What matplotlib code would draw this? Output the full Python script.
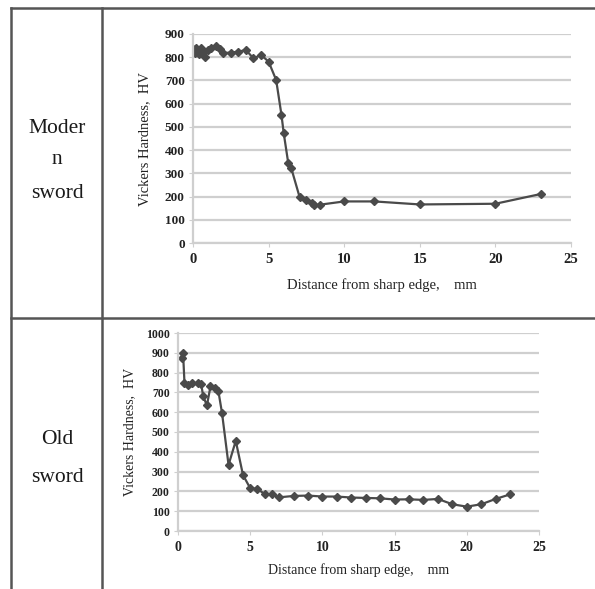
import matplotlib.pyplot as plt
from matplotlib.lines import Line2D

plt.rcParams['font.family'] = ['Liberation Serif', 'DejaVu Serif']

# modern sword: distance from edge (mm) and hardness (HV)
modern_x = [0.0, 0.1, 0.2, 0.3, 0.4, 0.5, 0.6, 0.8, 1.0, 1.2, 1.5, 1.8, 2.0, 2.5, 3.0,
            3.5, 4.0, 4.5, 5.0, 5.5, 5.85, 6.0, 6.3, 6.5, 7.05, 7.5, 7.9, 8.0, 8.4,
            10.0, 12.0, 15.0, 20.0, 23.0]
modern_hv = [835, 820, 840, 830, 815, 840, 825, 802, 830, 840, 848, 835, 818, 820, 824,
             831, 795, 810, 781, 702, 552, 473, 344, 322, 198, 186, 172, 165, 165,
             179, 179, 166, 169, 211]

# old sword
old_x = [0.25, 0.35, 0.45, 0.7, 1.0, 1.4, 1.6, 1.75, 2.0, 2.25, 2.55, 2.8, 3.05, 3.5,
         4.0, 4.5, 5.0, 5.5, 6.0, 6.5, 7.0, 8, 9, 10, 11, 12, 13, 14, 15, 16, 17,
         18, 19, 20, 21, 22, 23]
old_hv = [873, 899, 747, 739, 747, 747, 742, 680, 634, 730, 722, 705, 595, 334,
          455, 283, 216, 212, 187, 185, 170, 177, 179, 174, 174, 169, 167, 165, 159,
          160, 157, 162, 135, 123, 135, 162, 185]

xticks = [0, 5, 10, 15, 20, 25]
top_yticks = list(range(0, 1000, 100))
bot_yticks = list(range(0, 1100, 100))

fig = plt.figure(figsize=(5.95, 5.89), dpi=100)
W, H = 595, 589


def fx(px):
    return px / W


def fy(py):
    return 1 - py / H


line_col = '#4a4a4a'
grid_col = '#cfcfcf'
txt_col = '#222222'


def style(ax, yticks, ymax, ytick_fs, xtick_fs, lab_fs, ypad, xpad):
    ax.set_xlim(0, 25)
    ax.set_ylim(0, ymax)
    ax.set_xticks(xticks)
    ax.set_yticks(yticks)
    ax.grid(axis='y', color=grid_col, lw=1.6)
    ax.set_axisbelow(True)
    for s in ['top', 'right']:
        ax.spines[s].set_visible(False)
    for s in ['left', 'bottom']:
        ax.spines[s].set_color(grid_col)
        ax.spines[s].set_linewidth(1.6)
    ax.tick_params(axis='both', colors=grid_col, labelcolor=txt_col, length=3)
    ax.tick_params(axis='x', labelsize=xtick_fs, pad=4)
    ax.tick_params(axis='y', labelsize=ytick_fs, pad=3)
    for t in ax.get_xticklabels() + ax.get_yticklabels():
        t.set_fontweight('bold')
    ax.set_xlabel('Distance from sharp edge,    mm', fontsize=lab_fs, color=txt_col, labelpad=xpad)
    ax.set_ylabel('Vickers Hardness,  HV', fontsize=lab_fs, color=txt_col, labelpad=ypad)


ax1 = fig.add_axes([fx(193), fy(243), fx(571) - fx(193), fy(34) - fy(243)])
ax1.plot(modern_x, modern_hv, color=line_col, lw=1.6, marker='D', ms=4.5)
style(ax1, top_yticks, 900, 9.5, 10.5, 10.5, 10, 9)

ax2 = fig.add_axes([fx(178), fy(531), fx(539) - fx(178), fy(333) - fy(531)])
ax2.plot(old_x, old_hv, color=line_col, lw=1.6, marker='D', ms=4.5)
style(ax2, bot_yticks, 1000, 8.5, 10, 10, 7, 7)

# table frame
frame = '#555555'
for (x0, y0, x1, y1) in [(11, 8, 595, 8), (11, 8, 11, 589), (102, 8, 102, 589),
                         (11, 318, 595, 318)]:
    fig.add_artist(Line2D([fx(x0), fx(x1)], [fy(y0), fy(y1)], color=frame, lw=1.8))

row_fs = 15.5
for txt, y in [('Moder', 128), ('n', 160), ('sword', 193), ('Old', 440), ('sword', 478)]:
    fig.text(fx(57), fy(y), txt, ha='center', va='center', fontsize=row_fs, color='#1a1a1a')

fig.savefig('out.png', dpi=100)
